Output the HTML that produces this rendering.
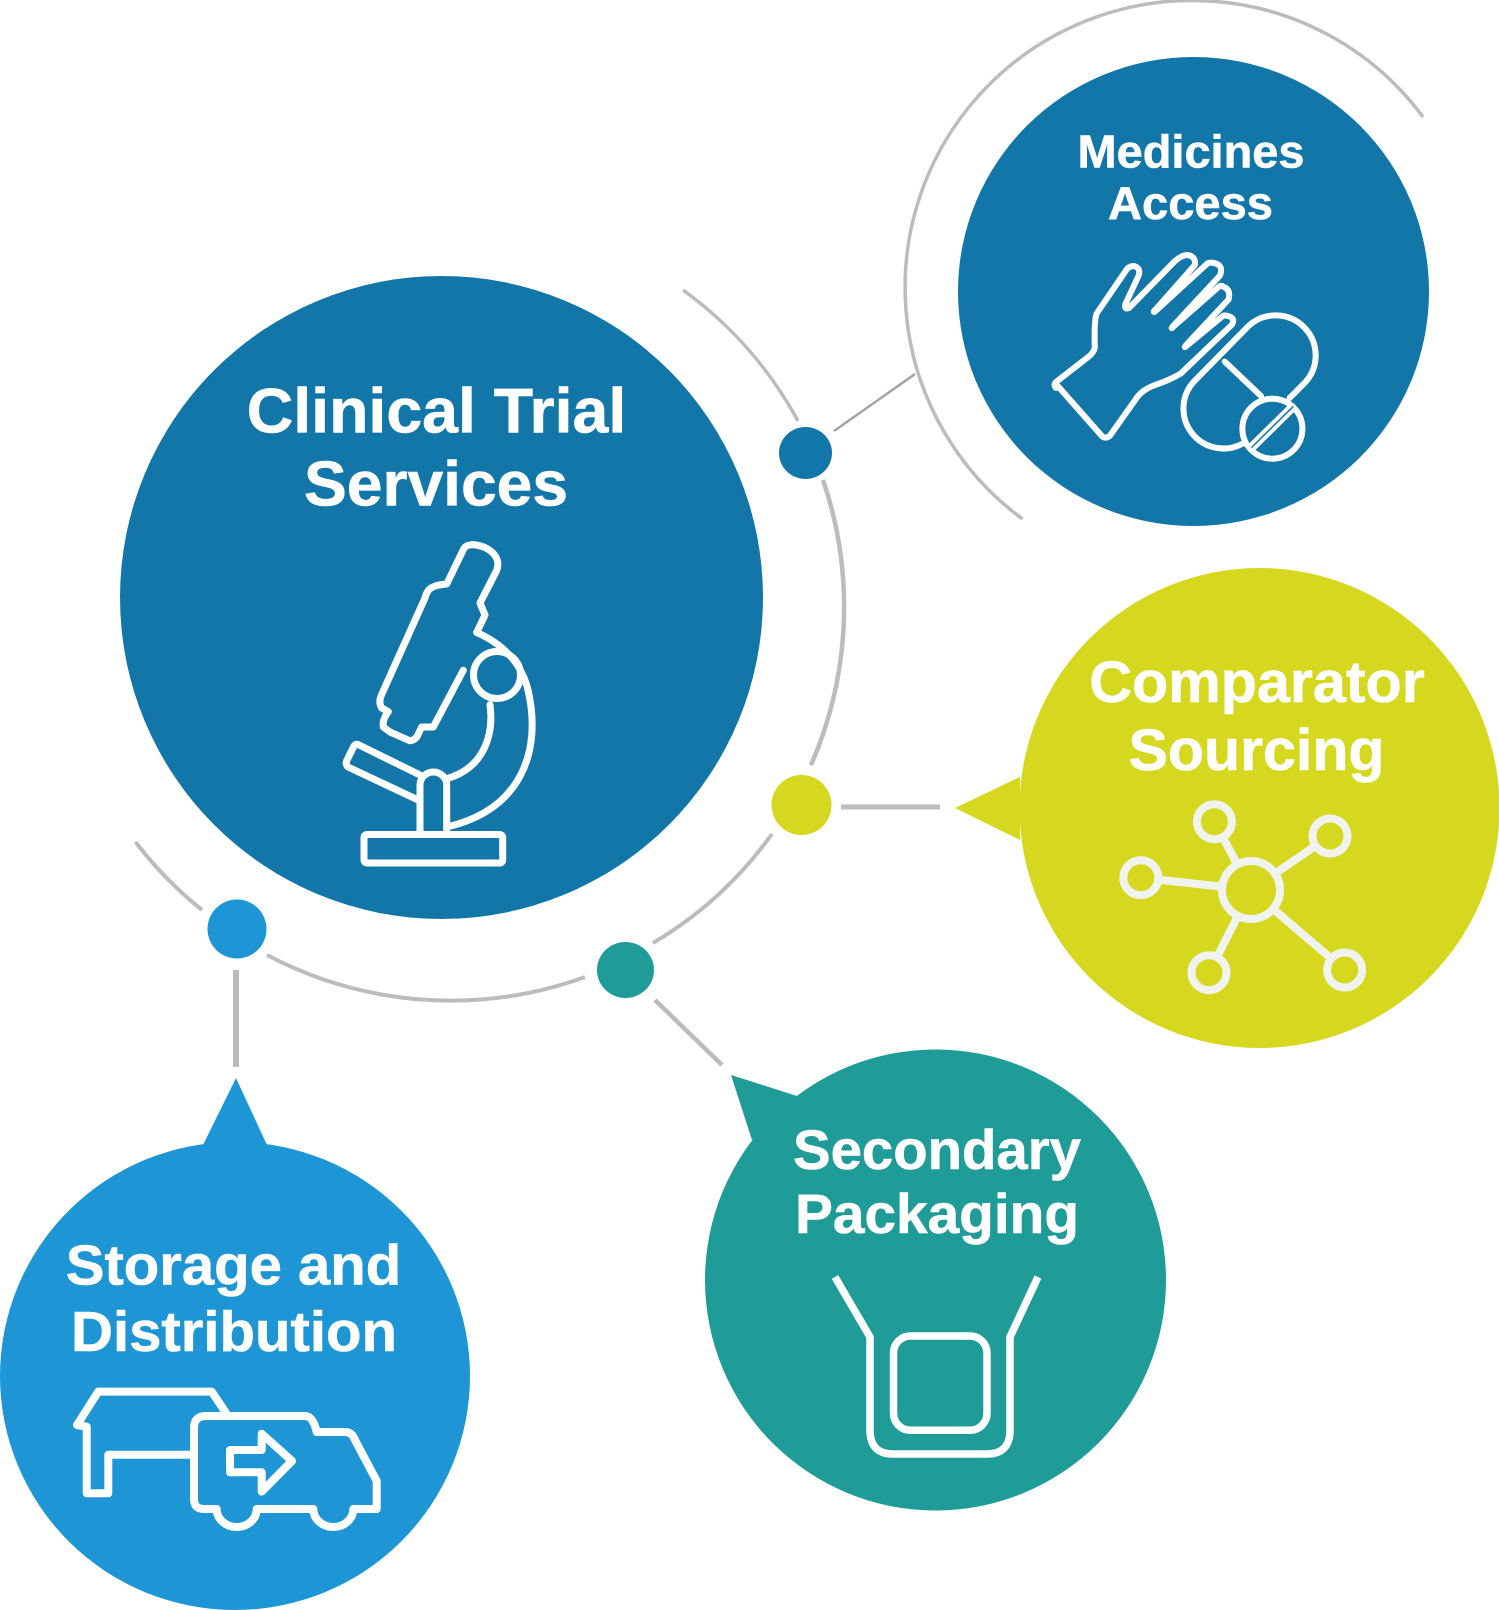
<!DOCTYPE html>
<html>
<head>
<meta charset="utf-8">
<style>
html,body{margin:0;padding:0;background:#fff;width:1499px;height:1610px;overflow:hidden}
svg{display:block}
text{font-family:"Liberation Sans",Arial,sans-serif;font-weight:700;fill:#fff;stroke:#fff;stroke-width:.6;text-anchor:middle}
.ic{fill:none;stroke:#fff;stroke-linejoin:round;stroke-linecap:round}
</style>
</head>
<body>
<svg width="1499" height="1610" viewBox="0 0 1499 1610" xmlns="http://www.w3.org/2000/svg">
<!-- rings -->
<g fill="none" stroke="#bcbcbc" stroke-width="4">
  <path d="M683 290A393.3 393.3 0 0 1 798 421" stroke-width="3.5"/>
  <path d="M823 480A393.3 393.3 0 0 1 811 765" stroke-width="4.5"/>
  <path d="M772 834A393.3 393.3 0 0 1 653 943"/>
  <path d="M585 977A393.3 393.3 0 0 1 267 955"/>
  <path d="M202 910A393.3 393.3 0 0 1 135.5 842"/>
  <path d="M1423 117A287 287 0 1 0 1022.5 519" stroke-width="3.5"/>
  <path d="M834 431L915 374" stroke="#a3a3a3" stroke-width="2.5"/>
  <path d="M841 807H940" stroke-width="5"/>
  <path d="M655 1000L722 1065" stroke-width="4.5"/>
  <path d="M236 970V1067" stroke-width="6"/>
</g>
<!-- dots -->
<ellipse cx="805.5" cy="453" rx="26.5" ry="26" fill="#1376a9"/>
<ellipse cx="801.5" cy="805" rx="30" ry="30" fill="#d6d71f"/>
<ellipse cx="625.5" cy="970" rx="28.5" ry="28" fill="#1f9b98"/>
<circle cx="237" cy="929" r="29.5" fill="#1e96d6"/>
<!-- main bubbles -->
<circle cx="441.5" cy="597.5" r="321.5" fill="#1376a9"/>
<ellipse cx="1193.5" cy="291.5" rx="235.5" ry="234.5" fill="#1376a9"/>
<ellipse cx="1259.5" cy="808" rx="240" ry="240" fill="#d6d71f"/>
<path d="M955 808L1020 777V840Z" fill="#d6d71f"/>
<circle cx="935.5" cy="1280" r="230.5" fill="#1f9b98"/>
<path d="M731 1075L797 1096L752 1140Z" fill="#1f9b98"/>
<ellipse cx="235" cy="1376" rx="235" ry="234" fill="#1e96d6"/>
<path d="M236 1078L203 1145H267Z" fill="#1e96d6"/>
<!-- labels -->
<text x="436.5" y="432.5" font-size="63" textLength="379.5" lengthAdjust="spacingAndGlyphs">Clinical Trial</text>
<text x="436" y="505.5" font-size="63" textLength="264" lengthAdjust="spacingAndGlyphs">Services</text>
<text x="1191" y="167.5" font-size="46.3" textLength="227" lengthAdjust="spacingAndGlyphs">Medicines</text>
<text x="1190.5" y="219" font-size="46.3" textLength="165" lengthAdjust="spacingAndGlyphs">Access</text>
<text x="1257" y="702" font-size="58.8" textLength="335.5" lengthAdjust="spacingAndGlyphs">Comparator</text>
<text x="1256.5" y="770" font-size="58.8" textLength="256" lengthAdjust="spacingAndGlyphs">Sourcing</text>
<text x="937" y="1169" font-size="56" textLength="288" lengthAdjust="spacingAndGlyphs">Secondary</text>
<text x="937" y="1233" font-size="56" textLength="284" lengthAdjust="spacingAndGlyphs">Packaging</text>
<text x="233.5" y="1284.5" font-size="57" textLength="335.5" lengthAdjust="spacingAndGlyphs">Storage and</text>
<text x="234" y="1351" font-size="57" textLength="326" lengthAdjust="spacingAndGlyphs">Distribution</text>
<!-- microscope -->
<g class="ic" stroke-width="7">
  <path d="M476.7 632.4L485 615L480 603L496.7 570.4C502 556 488 546 473.3 544.6C468 544.6 465 546 463.3 549.7L446.7 584Q436 585 431.7 587.6Q427 590 425 598L381.7 694.4Q378 702 381.7 708L388.3 711.6Q382 720 383.3 727L390 732L410 740.8Q416 740 418.3 734L421.7 727H433.3L463.3 670.2"/>
  <circle cx="497" cy="675" r="23.5"/>
  <path d="M476.7 632.4C505 645 522 665 528 690C542 750 522 810 446.7 827"/>
  <path d="M490 704.7C494 735 484 768 446.7 778.7"/>
  <path d="M420 834V785A13.3 13 0 0 1 446.7 785V834"/>
  <rect x="364" y="834.5" width="138.7" height="28.5" rx="3"/>
  <path d="M417 799.4L348 767Q345 764 347 760L354 746Q356 743 359 745L420 775" />
</g>
<!-- hand and pill -->
<g class="ic" stroke-width="6">
  <path d="M1056 384L1102.4 436.6Q1106 439 1110 435.6L1136.8 397.7Q1142 390 1155 385Q1170 380 1180.7 373.6L1231.6 325Q1236 318 1228 316Q1224 315 1222.8 316L1186.5 346Q1183 349 1187 344L1228.5 299.6Q1231 290 1224 287Q1221 285 1219 286.5L1173 327Q1170 330 1174 325L1220 275.5Q1224 265 1214 263Q1210 262 1207.5 263.4L1155 311.6Q1152 313 1156 309L1194.9 265Q1196 256 1187 255Q1182 255 1175 261L1129 308Q1124 310 1125.4 304L1138.7 275.5Q1141 268 1134 266Q1130 266 1127.3 268.6L1096.7 313.4Q1094 320 1094.8 347.8Q1094 352 1089 356.4L1056 382Q1053 385 1056 388Z"/>
  <path d="M1289.6 398L1305.5 382A40 40 0 0 0 1248.5 326L1193.5 382A40 40 0 0 0 1241.9 444"/>
  <path d="M1224.7 361.6L1261 396"/>
  <circle cx="1272.4" cy="428.7" r="30"/>
  <path d="M1293.4 406.3L1251.4 447.6" stroke-width="9" stroke-linecap="butt"/>
  <path d="M1293.4 406.3L1251.4 447.6" stroke="#1376a9" stroke-width="1.5" stroke-linecap="butt"/>
</g>
<!-- network -->
<g fill="#d6d71f" stroke="#f0f3ee" stroke-width="8">
  <path d="M1251 890L1214.4 821.7M1251 890L1330 836M1251 890L1140.8 877.7M1251 890L1209 972.7M1251 890L1344.6 970" fill="none"/>
  <circle cx="1251" cy="890" r="29"/>
  <circle cx="1214.4" cy="821.7" r="17.5"/>
  <circle cx="1330" cy="836" r="17.5"/>
  <circle cx="1140.8" cy="877.7" r="17.5"/>
  <circle cx="1209" cy="972.7" r="17.5"/>
  <circle cx="1344.6" cy="970" r="17.5"/>
</g>
<!-- packaging -->
<g class="ic" stroke-width="7.5">
  <path d="M835 1277L870 1337V1430Q870 1454 893 1454H987Q1010 1454 1010 1430V1337L1038 1277" stroke-linecap="butt"/>
  <rect x="893.5" y="1336" width="93.5" height="94.3" rx="17"/>
</g>
<!-- house and truck -->
<g class="ic" stroke-width="8">
  <path d="M190 1454.7H108.3V1493.3H86.7V1426.7L77 1425L98.3 1391.6H211.7L226.7 1414"/>
  <path d="M206 1416H305Q313 1416 316.7 1432H345Q352 1432 355 1440L376.7 1481V1509H353.3A20 18 0 0 1 313.3 1509H256.7A20 18 0 0 1 216.7 1509H204Q194 1509 194 1499V1428Q194 1416 206 1416Z"/>
  <path d="M230 1450H261.7V1433.7L292 1461L261.7 1491.6V1472.3H230Z"/>
</g>
</svg>
</body>
</html>
